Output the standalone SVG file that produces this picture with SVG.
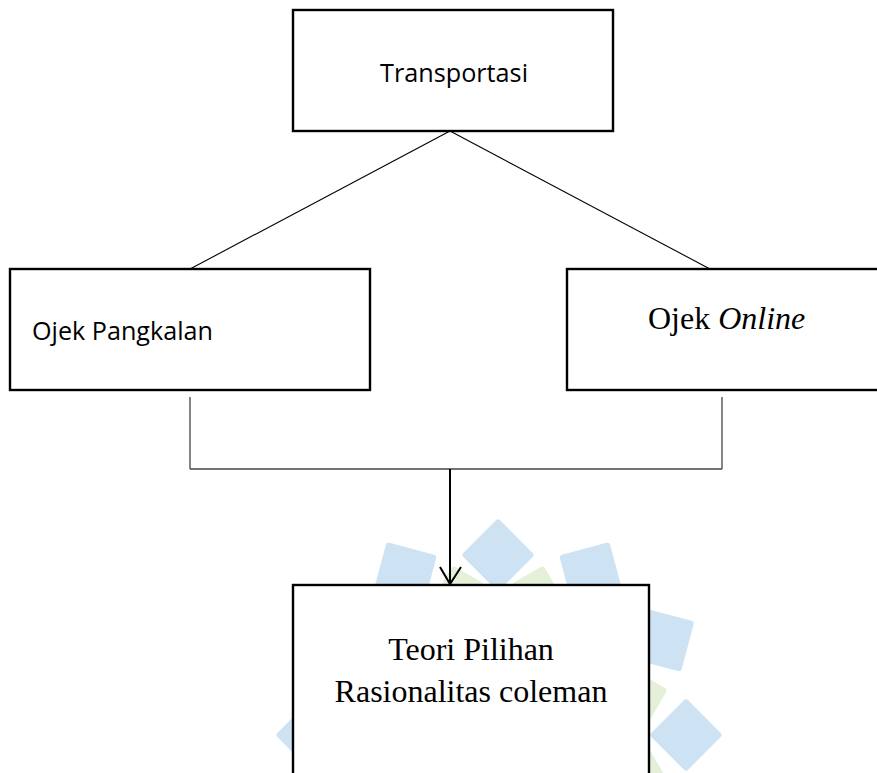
<svg xmlns="http://www.w3.org/2000/svg" width="877" height="773" viewBox="0 0 877 773">
<style>
.box{fill:#fff;stroke:#000;stroke-width:2.4}
.thin{stroke:#000;stroke-width:1.1;fill:none}
.grey{stroke:#444;stroke-width:1.3;fill:none}
.sans{font-family:"Open Sans","Liberation Sans",sans-serif;font-size:26px;fill:#000}
.serif{font-family:"Liberation Serif","Times New Roman",serif;font-size:32px;fill:#000}
.tile{fill:#cde2f3}
.gtile{fill:#e5f0d8}
</style>
<defs>
<rect id="t" x="-26" y="-26" width="52" height="52" rx="3"/>
<rect id="g" x="-18" y="-18" width="36" height="36" rx="3"/>
</defs>
<rect width="877" height="773" fill="#fff"/>
<g id="watermark">
<g class="gtile">
<use href="#g" transform="translate(498 735) rotate(-105) translate(150 0) rotate(45)"/>
<use href="#g" transform="translate(498 735) rotate(-75) translate(150 0) rotate(45)"/>
<use href="#g" transform="translate(498 735) rotate(-15) translate(150 0) rotate(45)"/>
<use href="#g" transform="translate(498 735) rotate(15) translate(150 0) rotate(45)"/>
<use href="#g" transform="translate(498 735) rotate(165) translate(150 0) rotate(45)"/>
<use href="#g" transform="translate(498 735) rotate(-165) translate(150 0) rotate(45)"/>
</g>
<g class="tile">
<use href="#t" transform="translate(498 735) rotate(-90) translate(180 0) rotate(45)"/>
<use href="#t" transform="translate(498 735) rotate(-60) translate(186 0) rotate(45)"/>
<use href="#t" transform="translate(498 735) rotate(-30) translate(190 0) rotate(45)"/>
<use href="#t" transform="translate(498 735) rotate(0) translate(188 0) rotate(45)"/>
<use href="#t" transform="translate(498 735) rotate(-120) translate(186 0) rotate(45)"/>
<use href="#t" transform="translate(498 735) rotate(-150) translate(190 0) rotate(45)"/>
<use href="#t" transform="translate(498 735) rotate(180) translate(186 0) rotate(45)"/>
</g>
</g>
<g id="connectors">
<line class="thin" x1="450" y1="131" x2="190" y2="269"/>
<line class="thin" x1="450" y1="131" x2="710" y2="269"/>
<line class="grey" x1="190" y1="397" x2="190" y2="469"/>
<line class="grey" x1="722" y1="397" x2="722" y2="469"/>
<line class="grey" x1="190" y1="469" x2="722" y2="469"/>
<line x1="450" y1="469" x2="450" y2="584" stroke="#000" stroke-width="2"/>
<polyline points="440,567 450,584 461,567" fill="none" stroke="#000" stroke-width="2"/>
</g>
<g id="node-transportasi">
<rect class="box" x="293" y="10" width="320" height="121"/>
<text class="sans" x="380" y="82" textLength="148" lengthAdjust="spacingAndGlyphs">Transportasi</text>
</g>
<g id="node-ojek-pangkalan">
<rect class="box" x="10" y="269" width="360" height="121"/>
<text class="sans" x="32" y="340" textLength="181" lengthAdjust="spacingAndGlyphs">Ojek Pangkalan</text>
</g>
<g id="node-ojek-online">
<rect class="box" x="567" y="269" width="330" height="121"/>
<text class="serif" x="648" y="329">Ojek <tspan font-style="italic">Online</tspan></text>
</g>
<g id="node-teori">
<rect class="box" x="293" y="585" width="356" height="220"/>
<text class="serif" x="471" y="660" text-anchor="middle">Teori Pilihan</text>
<text class="serif" x="471" y="702" text-anchor="middle">Rasionalitas coleman</text>
</g>
</svg>
